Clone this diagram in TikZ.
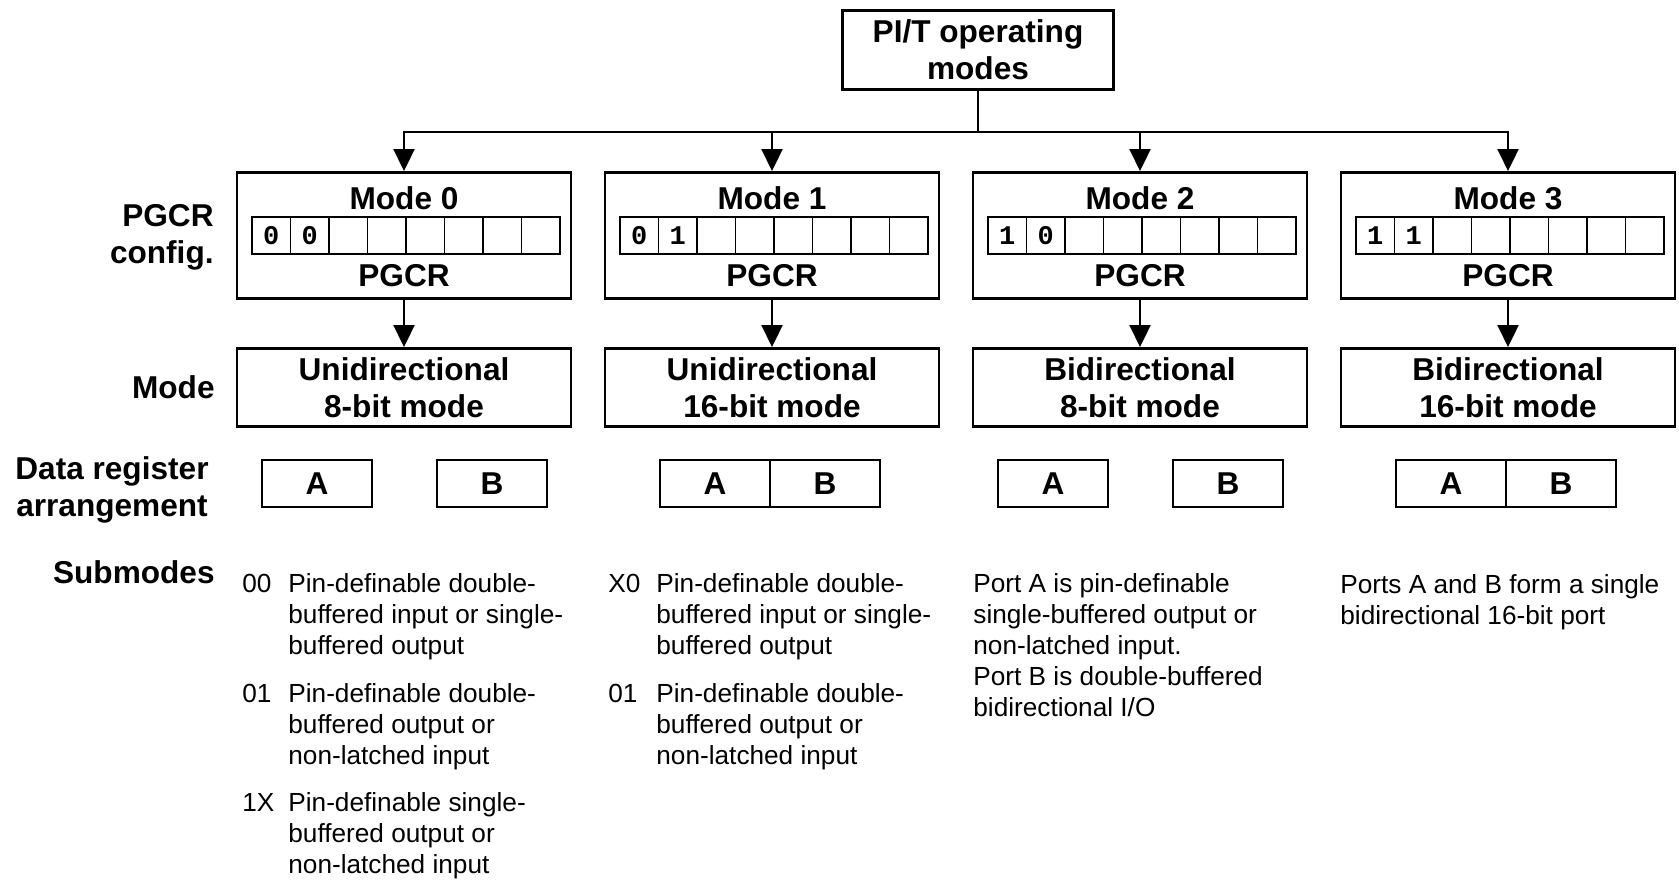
\documentclass[tikz,border=0pt]{standalone}
\usepackage{fontspec}
\setmainfont{Liberation Sans}
\setmonofont{Liberation Mono}
\usetikzlibrary{arrows.meta, positioning}
\tikzset{
  hd/.style={font=\fontsize{15.8}{18.5}\selectfont\bfseries, align=center, inner sep=0pt},
  modebox/.style={rectangle, draw, line width=1.3pt, minimum width=167pt, minimum height=39.2pt, hd},
  cfgbox/.style={modebox, minimum height=63.2pt},
  cell/.style={rectangle, draw, line width=0.6pt, minimum width=19.25pt, minimum height=18.5pt, inner sep=0pt, font=\fontsize{13.5}{15}\selectfont\ttfamily\bfseries},
  datareg/.style={rectangle, draw, line width=1pt, minimum width=55pt, minimum height=23.5pt, hd},
  sub/.style={font=\fontsize{13.1}{15.5}\selectfont, align=left, inner sep=0pt, anchor=base west},
  arr/.style={-{Triangle[length=11pt, width=10.5pt]}, line width=1.15pt},
}
\begin{document}
\begin{tikzpicture}[x=0.5pt, y=-0.5pt]
\useasboundingbox (0,0) rectangle (1679,883);
% top of the tree
\node[modebox, minimum width=135.5pt, minimum height=39.5pt] (top) at (978,50) {PI/T operating\\modes};
\coordinate (bus) at (978,132);

% PGCR settings
\node[cfgbox] (cfgA) at (404,235.5) {};
\node[cfgbox] (cfgB) at (772,235.5) {};
\node[cfgbox] (cfgC) at (1140,235.5) {};
\node[cfgbox] (cfgD) at (1508,235.5) {};
\node[hd, anchor=base] (ttlA) at ([yshift=-19pt]cfgA.north) {Mode 0};
\node[hd, anchor=base] (ttlB) at ([yshift=-19pt]cfgB.north) {Mode 1};
\node[hd, anchor=base] (ttlC) at ([yshift=-19pt]cfgC.north) {Mode 2};
\node[hd, anchor=base] (ttlD) at ([yshift=-19pt]cfgD.north) {Mode 3};
\node[hd, anchor=base] (regA) at ([yshift=7pt]cfgA.south) {PGCR};
\node[hd, anchor=base] (regB) at ([yshift=7pt]cfgB.south) {PGCR};
\node[hd, anchor=base] (regC) at ([yshift=7pt]cfgC.south) {PGCR};
\node[hd, anchor=base] (regD) at ([yshift=7pt]cfgD.south) {PGCR};
\foreach \c/\ba/\bb [count=\k] in {404/0/0, 772/0/1, 1140/1/0, 1508/1/1} {
  \node[cell] (bit\k-1) at (\c-132.75,235.5) {\ba};
  \node[cell] (bit\k-2) at (\c-94.25,235.5) {\bb};
  \foreach \i in {3,...,8}
    \node[cell] (bit\k-\i) at (\c-171.25+38.5*\i,235.5) {};
}

% mode boxes
\node[modebox] (modeA) at (404,387.5) {Unidirectional\\8-bit mode};
\node[modebox] (modeB) at (772,387.5) {Unidirectional\\16-bit mode};
\node[modebox] (modeC) at (1140,387.5) {Bidirectional\\8-bit mode};
\node[modebox] (modeD) at (1508,387.5) {Bidirectional\\16-bit mode};

\draw[line width=1.15pt] (top) -- (bus);
\draw[arr] (bus) -| (cfgA.north);
\draw[arr] (bus) -| (cfgB.north);
\draw[arr] (bus) -| (cfgC.north);
\draw[arr] (bus) -| (cfgD.north);
\draw[arr] (cfgA) -- (modeA); \draw[arr] (cfgB) -- (modeB);
\draw[arr] (cfgC) -- (modeC); \draw[arr] (cfgD) -- (modeD);

% data registers
\node[datareg] (datA1) at (317,483.5) {A};
\node[datareg] (datB1) at (492,483.5) {B};
\node[datareg] (datA2) at (715,483.5) {A};
\node[datareg, right=-1pt of datA2] (datB2) {B};
\node[datareg] (datA3) at (1053,483.5) {A};
\node[datareg] (datB3) at (1228,483.5) {B};
\node[datareg] (datA4) at (1451,483.5) {A};
\node[datareg, right=-1pt of datA4] (datB4) {B};

% row labels (base = last line)
\node[hd, align=right, anchor=base east] (lblcfg) at (214,263) {PGCR\\config.};
\node[hd, anchor=base east] (lblmode) at (215,398) {Mode};
\node[hd, anchor=base] (lbldata) at (112,516) {Data register\\arrangement};
\node[hd, anchor=base east] (lblsub) at (215,583) {Submodes};

% submodes
\node[sub] (code1a) at (242,592) {00};
\node[sub] (text1a) at (288,654) {Pin-definable double-\\buffered input or single-\\buffered output};
\node[sub] (code1b) at (242,702) {01};
\node[sub] (text1b) at (288,764) {Pin-definable double-\\buffered output or\\non-latched input};
\node[sub] (code1c) at (242,811) {1X};
\node[sub] (text1c) at (288,873) {Pin-definable single-\\buffered output or\\non-latched input};
\node[sub] (code2a) at (608,592) {X0};
\node[sub] (text2a) at (656,654) {Pin-definable double-\\buffered input or single-\\buffered output};
\node[sub] (code2b) at (608,702) {01};
\node[sub] (text2b) at (656,764) {Pin-definable double-\\buffered output or\\non-latched input};
\node[sub] (text3) at (973,716) {Port A is pin-definable\\single-buffered output or\\non-latched input.\\Port B is double-buffered\\bidirectional I/O};
\node[sub] (text4) at (1340,624) {Ports A and B form a single\\bidirectional 16-bit port};
\end{tikzpicture}
\end{document}
